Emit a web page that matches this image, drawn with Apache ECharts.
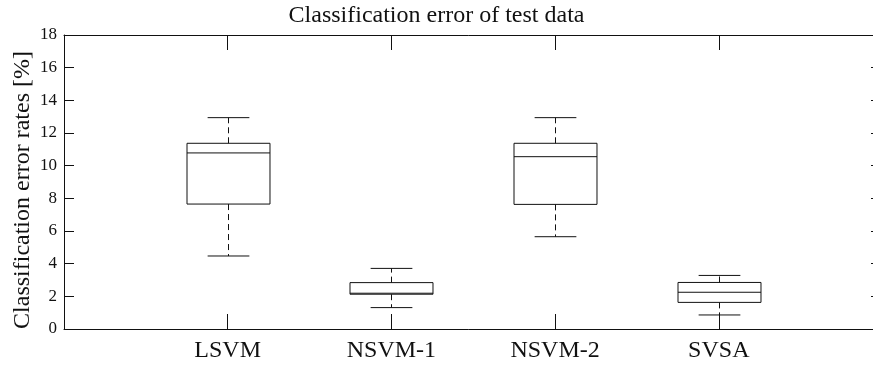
<!DOCTYPE html>
<html>
<head>
<meta charset="utf-8">
<title>Classification error of test data</title>
<script src="https://cdn.jsdelivr.net/npm/echarts@6/dist/echarts.min.js"></script>
<style>
  html, body { margin: 0; padding: 0; background: #fff; }
  #chart { width: 873px; height: 367px; }
</style>
</head>
<body>
<div id="chart"></div>
<script>
// Box plot statistics per classifier (classification error, %)
const categories   = ['LSVM', 'NSVM-1', 'NSVM-2', 'SVSA'];
const lowerWhisker = [4.47, 1.31, 5.65, 0.86];
const q1           = [7.65, 2.13, 7.63, 1.63];
const median       = [10.78, 2.19, 10.55, 2.25];
const q3           = [11.37, 2.84, 11.37, 2.85];
const upperWhisker = [12.94, 3.71, 12.94, 3.28];

// Value axis range and tick step
const yMin = 0, yMax = 18, yStep = 2;

const FONT = "'Liberation Serif', 'Times New Roman', serif";
const INK = '#111';

// Each row: [position, low, q1, median, q3, high]
const boxData = categories.map((c, i) => [
  i + 1, lowerWhisker[i], q1[i], median[i], q3[i], upperWhisker[i]
]);

const chart = echarts.init(document.getElementById('chart'), null, { renderer: 'canvas' });

function renderBox(params, api) {
  const x = api.value(0);
  const pLow = api.coord([x, api.value(1)]);
  const pQ1 = api.coord([x, api.value(2)]);
  const pMed = api.coord([x, api.value(3)]);
  const pQ3 = api.coord([x, api.value(4)]);
  const pHigh = api.coord([x, api.value(5)]);
  const boxW = api.size([0.507, 0])[0];
  const capW = api.size([0.255, 0])[0];
  const cx = Math.round(pMed[0]) + 0.5;
  const solid = { stroke: INK, lineWidth: 1, fill: null };
  const dashed = { stroke: INK, lineWidth: 1, lineDash: [6, 4], fill: null };
  return {
    type: 'group',
    children: [
      { type: 'line', shape: { x1: cx, y1: pQ3[1], x2: cx, y2: pHigh[1] }, style: dashed },
      { type: 'line', shape: { x1: cx, y1: pQ1[1], x2: cx, y2: pLow[1] }, style: dashed },
      { type: 'line', shape: { x1: cx - capW / 2, y1: pHigh[1], x2: cx + capW / 2, y2: pHigh[1] }, style: solid },
      { type: 'line', shape: { x1: cx - capW / 2, y1: pLow[1], x2: cx + capW / 2, y2: pLow[1] }, style: solid },
      { type: 'rect', shape: { x: cx - boxW / 2, y: pQ3[1], width: boxW, height: pQ1[1] - pQ3[1] }, style: solid },
      { type: 'line', shape: { x1: cx - boxW / 2, y1: pMed[1], x2: cx + boxW / 2, y2: pMed[1] }, style: solid }
    ]
  };
}

const axisLine = { show: true, onZero: false, lineStyle: { color: INK, width: 1 } };

chart.setOption({
  animation: false,
  backgroundColor: '#fff',
  title: {
    text: 'Classification error of test data',
    left: 'center',
    top: 4,
    padding: 0,
    textStyle: { fontFamily: FONT, fontSize: 24, fontWeight: 'normal', color: INK }
  },
  graphic: [{
    type: 'text',
    x: 23,
    y: 190,
    rotation: Math.PI / 2,
    style: {
      text: 'Classification error rates [%]',
      font: "24px 'Liberation Serif', 'Times New Roman', serif",
      fill: INK,
      textAlign: 'center',
      textVerticalAlign: 'middle'
    }
  }],
  grid: { left: 64, top: 35, right: -9.5, height: 294, containLabel: false, outerBoundsMode: 'none' },
  xAxis: [{
    type: 'value',
    min: 0, max: categories.length + 1, interval: 1,
    position: 'bottom',
    axisLine: axisLine,
    axisTick: { show: true, inside: true, length: 15, lineStyle: { color: INK } },
    splitLine: { show: false },
    axisLabel: {
      margin: 10,
      fontFamily: FONT, fontSize: 24, color: INK,
      formatter: v => categories[v - 1] || ''
    }
  }, {
    type: 'value',
    min: 0, max: categories.length + 1, interval: 1,
    position: 'top',
    axisLine: axisLine,
    axisTick: { show: true, inside: true, length: 15, lineStyle: { color: INK } },
    splitLine: { show: false },
    axisLabel: { show: false }
  }],
  yAxis: [{
    type: 'value',
    min: yMin, max: yMax, interval: yStep,
    position: 'left',
    axisLine: axisLine,
    axisTick: { show: true, inside: true, length: 10, lineStyle: { color: INK } },
    splitLine: { show: false },
    axisLabel: { margin: 7, fontFamily: FONT, fontSize: 17, color: INK }
  }, {
    type: 'value',
    min: yMin, max: yMax, interval: yStep,
    position: 'right',
    axisLine: axisLine,
    axisTick: { show: true, inside: true, length: 11.5, lineStyle: { color: INK } },
    splitLine: { show: false },
    axisLabel: { show: false }
  }],
  series: [{
    type: 'custom',
    xAxisIndex: 0,
    yAxisIndex: 0,
    renderItem: renderBox,
    encode: { x: 0, y: [1, 2, 3, 4, 5] },
    data: boxData,
    clip: false
  }]
});
</script>
</body>
</html>
